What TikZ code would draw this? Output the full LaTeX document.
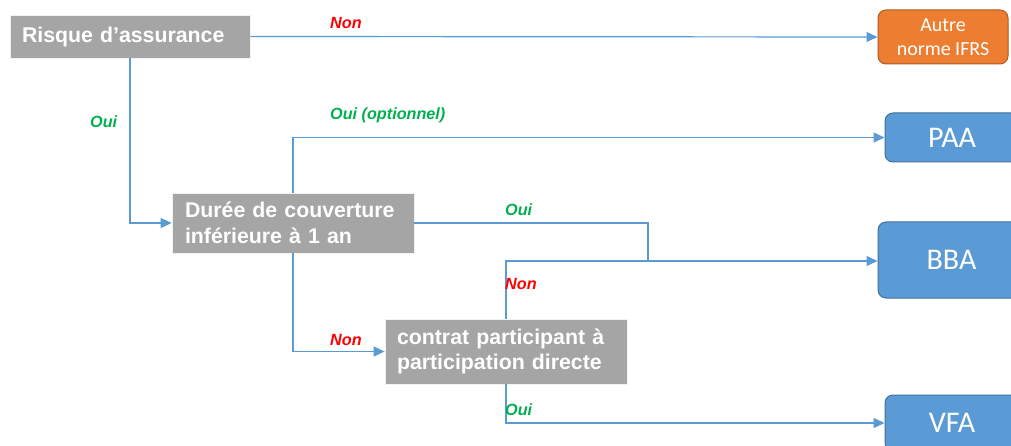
\documentclass[tikz,border=0pt]{standalone}
\usepackage{fontspec}
\setmainfont{Liberation Sans}
\newfontfamily\calib{Carlito}
\usetikzlibrary{arrows.meta}
\definecolor{lineblue}{HTML}{5B9BD5}
\definecolor{boxblue}{HTML}{5B9BD5}
\definecolor{boxblueborder}{HTML}{41719C}
\definecolor{boxorange}{HTML}{ED7D31}
\definecolor{boxorangeborder}{HTML}{AE5A21}
\definecolor{boxgray}{HTML}{A5A5A5}
\definecolor{labred}{HTML}{FF0000}
\definecolor{labgreen}{HTML}{00B050}
\begin{document}
\begin{tikzpicture}[x=1pt,y=-1pt,
  graybox/.style={fill=boxgray, draw=white!85!boxgray, line width=0.8pt, text=white,
    font=\fontsize{21.3}{25.5}\selectfont\bfseries, align=left, inner ysep=0pt, anchor=center},
  bluebox/.style={fill=boxblue, draw=boxblueborder, line width=1pt, rounded corners=8pt,
    text=white, font=\calib\fontsize{30}{34}\selectfont, inner sep=0pt, anchor=center},
  orangebox/.style={fill=boxorange, draw=boxorangeborder, line width=1pt, rounded corners=8pt,
    text=white, font=\calib\fontsize{20}{24}\selectfont, align=center, inner sep=0pt, anchor=center},
  conn/.style={draw=lineblue, line width=1.2pt},
  arr/.style={conn, -{Triangle[length=11pt,width=10pt]}},
  nonlab/.style={text=labred, font=\fontsize{16.2}{19}\selectfont\bfseries\itshape, anchor=west, inner sep=0pt},
  ouilab/.style={text=labgreen, font=\fontsize{16.2}{19}\selectfont\bfseries\itshape, anchor=west, inner sep=0pt}
]
\useasboundingbox (0,0) rectangle (1011,446);
\fill[white] (0,0) rectangle (1011,446);

% decision boxes
\node[graybox, text width=216pt, inner xsep=12pt, minimum height=43pt] (risque) at (130,36.5) {Risque d’assurance};
\node[graybox, text width=216pt, inner xsep=13pt, minimum height=60pt] (duree) at (293,223) {Durée de couverture\\inférieure à 1 an};
\node[graybox, text width=218pt, inner xsep=12pt, minimum height=65pt] (contrat) at (506,351.5) {contrat participant à\\participation directe};

% result boxes
\node[orangebox, minimum width=130pt, minimum height=54pt] (autre) at (943,37) {Autre\\norme IFRS};
\node[bluebox, minimum width=134pt, minimum height=49pt] (paa) at (952,137.5) {PAA};
\node[bluebox, minimum width=147pt, minimum height=76pt] (bba) at (951.5,260) {BBA};
\node[bluebox, minimum width=134pt, minimum height=56pt] (vfa) at (952,423) {VFA};

% junction coordinates
\coordinate (j1) at (648,223);
\coordinate (j2) at (648,261);
\coordinate (j3) at (506,261);

% connectors
\draw[arr] (risque.east) -- (autre.west);
\draw[arr] (risque.south) |- (duree.west);
\draw[arr] (duree.north) |- (paa.west);
\draw[conn] (duree.east) -- (j1) -- (j2);
\draw[arr] (j2) -- (j2 -| bba.west);
\draw[conn] (contrat.north) -- (j3) -- (j2);
\draw[arr] (duree.south) |- (contrat.west);
\draw[arr] (contrat.south) |- (vfa.west);

% labels
\node[nonlab] (l1) at (330,23) {Non};
\node[ouilab] (l2) at (90,122) {Oui};
\node[ouilab] (l3) at (330,115) {Oui (optionnel)};
\node[ouilab] (l4) at (505,210) {Oui};
\node[nonlab] (l5) at (505,284) {Non};
\node[nonlab] (l6) at (330,340) {Non};
\node[ouilab] (l7) at (505,410) {Oui};
\end{tikzpicture}
\end{document}
